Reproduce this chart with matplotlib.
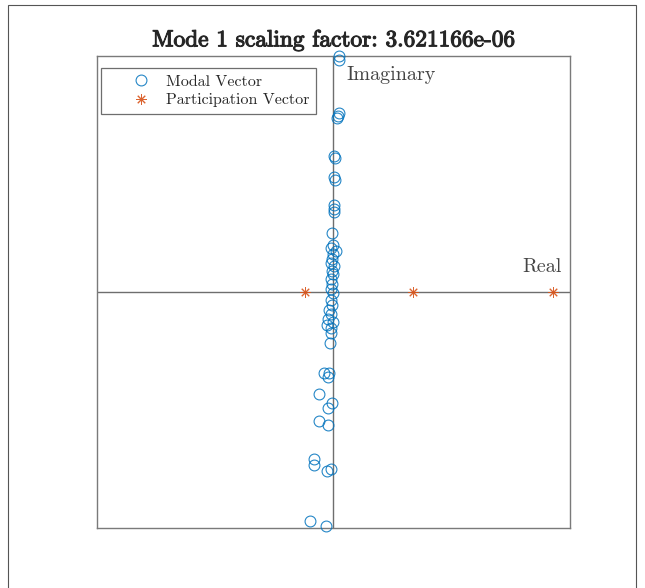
import numpy as np
import matplotlib.pyplot as plt
import matplotlib.patheffects as pe
from matplotlib.legend_handler import HandlerLine2D

# modal vector components (normalised real / imaginary parts)
modal_re = [0.023, 0.023, 0.023, 0.019, 0.015, 0.002, 0.006, 0.002, 0.006, 0.002,
            0.002, 0.002, -0.006, -0.002, -0.011, 0.011, -0.002, -0.006, -0.011, 0.002,
            -0.006, -0.002, -0.011, -0.006, -0.011, -0.002, -0.011, -0.006, -0.019, -0.011,
            -0.023, -0.002, -0.027, -0.011, -0.011, -0.015, -0.040, -0.019, -0.023, -0.061,
            -0.006, -0.023, -0.061, -0.023, -0.082, -0.082, -0.027, -0.011, -0.099, -0.032]
modal_im = [1.000, 0.983, 0.758, 0.746, 0.737, 0.576, 0.568, 0.487, 0.475, 0.369,
            0.352, 0.339, 0.250, 0.199, 0.186, 0.174, 0.161, 0.140, 0.123, 0.110,
            0.089, 0.076, 0.055, 0.034, 0.013, -0.004, -0.034, -0.055, -0.076, -0.093,
            -0.114, -0.127, -0.140, -0.153, -0.174, -0.216, -0.343, -0.343, -0.360, -0.432,
            -0.470, -0.492, -0.547, -0.564, -0.708, -0.733, -0.758, -0.750, -0.970, -0.992]

# participation vector components
part_re = [-0.121, 0.336, 0.927]
part_im = [0.0, 0.0, 0.0]

scale = 3.621166e-06
blue = '#0072BD'
orange = '#D95319'

fig = plt.figure(figsize=(6.45, 5.88), dpi=100)
ax = fig.add_axes([0.1504, 0.1020, 0.7333, 0.8027])

ax.axhline(0, color='#6e6e6e', lw=1.0, zorder=1)
ax.axvline(0, color='#6e6e6e', lw=1.0, zorder=1)

ax.plot(modal_re, modal_im, 'o', mfc='none', mec=blue, ms=7.8, mew=0.8, alpha=0.85,
        clip_on=False, label='Modal Vector', zorder=3)
ax.plot(part_re, part_im, ls='none', marker=(8, 2, 0), color=orange, ms=7.5, mew=0.7,
        alpha=0.9, clip_on=False, label='Participation Vector', zorder=3)

ax.set_xlim(-1, 1)
ax.set_ylim(-1, 1)
ax.set_xticks([])
ax.set_yticks([])
for s in ax.spines.values():
    s.set_color('#7a7a7a')
    s.set_linewidth(1.0)

ax.text(0.053, 0.958, 'Imaginary', family='cmr10', fontsize=14.5, color='#454545',
        ha='left', va='top')
ax.text(0.967, 0.07, 'Real', family='cmr10', fontsize=14.5, color='#454545',
        ha='right', va='bottom')

# heavy, wide title: regular cm face thickened with a stroke
title = ax.set_title('Mode 1 scaling factor: %e' % scale, family='cmr10', fontsize=16.8,
                     color='#262626', pad=7)
title.set_path_effects([pe.withStroke(linewidth=0.8, foreground='#262626')])

hmap = {ln: HandlerLine2D(xpad=0.96) for ln in ax.get_lines()[2:]}
leg = ax.legend(loc='upper left', bbox_to_anchor=(0.0085, 0.9746),
                prop={'family': 'cmr10', 'size': 11.5}, handler_map=hmap,
                fancybox=False, framealpha=1, edgecolor='#6e6e6e',
                borderaxespad=0, handlelength=3.25, handletextpad=0.4,
                labelspacing=0.28, borderpad=0.4)
leg.get_frame().set_linewidth(0.9)
for t in leg.get_texts():
    t.set_color('#262626')

# outer frame of the figure window
fig.add_artist(plt.Rectangle((8 / 645, -0.01), 628 / 645, 1 - 5 / 588 + 0.01,
                             transform=fig.transFigure, fill=False,
                             ec='#555555', lw=0.8))

fig.savefig('out.png', dpi=100)
